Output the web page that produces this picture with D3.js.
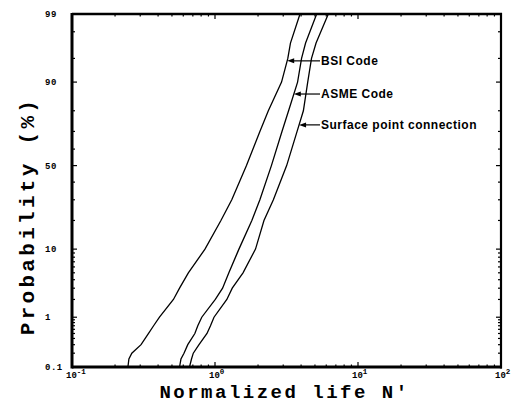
<!DOCTYPE html>
<html>
<head>
<meta charset="utf-8">
<script src="https://cdnjs.cloudflare.com/ajax/libs/d3/7.8.5/d3.min.js"></script>
<style>
  body { margin: 0; background: #fff; }
  svg { display: block; }
</style>
</head>
<body>
<div id="chart"></div>
<script>
// cumulative probability (%) at which the curves were read
const probLevels = [0.1, 0.15, 0.2, 0.3, 0.5, 0.7, 1, 2, 3, 5, 10, 20, 30, 50, 70, 80, 90, 95, 97, 99];
// normalized life N' for each curve at those probabilities
const bsiLife  = [0.246, 0.250, 0.262, 0.304, 0.343, 0.372, 0.409, 0.512, 0.565, 0.651, 0.851, 1.10, 1.31, 1.66, 2.06, 2.36, 2.92, 3.23, 3.37, 3.93];
const asmeLife = [0.565, 0.578, 0.607, 0.645, 0.723, 0.758, 0.808, 1.005, 1.13, 1.25, 1.47, 1.81, 2.06, 2.48, 2.94, 3.27, 3.78, 4.03, 4.30, 5.14];
const surfLife = [0.663, 0.685, 0.705, 0.773, 0.879, 0.930, 0.984, 1.21, 1.32, 1.57, 1.92, 2.20, 2.56, 3.17, 3.75, 4.15, 4.45, 4.73, 5.09, 6.20];

const seriesNames = ["BSI Code", "ASME Code", "Surface point connection"];
const labelProbs = [94.6, 86.4, 73.4];

// tick labels
const yLabelTicks = [0.1, 1, 10, 50, 90, 99];
const yMinorTicks = [0.2, 0.3, 0.4, 0.5, 0.6, 0.7, 0.8, 0.9, 2, 3, 4, 5, 6, 7, 8, 9, 20, 30, 40, 60, 70, 80, 95, 98];
const xMajorTicks = [0.1, 1, 10, 100];
const xExponents = ["-1", "0", "1", "2"];

// inverse normal cdf (Acklam)
function probit(p) {
    const a = [-3.969683028665376e+01, 2.209460984245205e+02, -2.759285104469687e+02, 1.383577518672690e+02, -3.066479806614716e+01, 2.506628277459239e+00];
    const b = [-5.447609879822406e+01, 1.615858368580409e+02, -1.556989798598866e+02, 6.680131188771972e+01, -1.328068155288572e+01];
    const c = [-7.784894002430293e-03, -3.223964580411365e-01, -2.400758277161838e+00, -2.549732539343734e+00, 4.374664141464968e+00, 2.938163982698783e+00];
    const d = [7.784695709041462e-03, 3.224671290700398e-01, 2.445134137142996e+00, 3.754408661907416e+00];
    const pl = 0.02425;
    let q, r;
    if (p < pl) {
        q = Math.sqrt(-2 * Math.log(p));
        return (((((c[0]*q+c[1])*q+c[2])*q+c[3])*q+c[4])*q+c[5]) / ((((d[0]*q+d[1])*q+d[2])*q+d[3])*q+1);
    }
    if (p <= 1 - pl) {
        q = p - 0.5; r = q * q;
        return (((((a[0]*r+a[1])*r+a[2])*r+a[3])*r+a[4])*r+a[5])*q / (((((b[0]*r+b[1])*r+b[2])*r+b[3])*r+b[4])*r+1);
    }
    q = Math.sqrt(-2 * Math.log(1 - p));
    return -(((((c[0]*q+c[1])*q+c[2])*q+c[3])*q+c[4])*q+c[5]) / ((((d[0]*q+d[1])*q+d[2])*q+d[3])*q+1);
}

let margin = { top: 14, right: 10, bottom: 36, left: 72 },
    W = 511, H = 403;

let svg = d3.select("#chart").append("svg")
    .attr("width", W)
    .attr("height", H);

let x = d3.scaleLog().domain([0.1, 100]).range([margin.left, W - margin.right]);
let z = d3.scaleLinear().domain([probit(0.001), probit(0.99)]).range([H - margin.bottom, margin.top]);
let y = p => z(probit(p / 100));

const pTop = margin.top, pBottom = H - margin.bottom, pLeft = margin.left, pRight = W - margin.right;

// y ticks (inward, both sides)
let allY = yLabelTicks.map(p => ({ p: p, major: true })).concat(yMinorTicks.map(p => ({ p: p, major: false })));
svg.append("g").selectAll("line").data(allY).enter().append("line")
    .attr("x1", pLeft).attr("x2", d => pLeft + (d.major ? 5 : 3))
    .attr("y1", d => y(d.p)).attr("y2", d => y(d.p))
    .attr("stroke", "#000").attr("stroke-width", 1.2);
svg.append("g").selectAll("line").data(allY).enter().append("line")
    .attr("x1", pRight).attr("x2", d => pRight - (d.major ? 5 : 3))
    .attr("y1", d => y(d.p)).attr("y2", d => y(d.p))
    .attr("stroke", "#000").attr("stroke-width", 1.2);

// x ticks (inward, bottom and top)
let xMinor = [];
[0.1, 1, 10].forEach(base => { for (let k = 2; k <= 9; k++) xMinor.push(base * k); });
let allX = xMajorTicks.map(v => ({ v: v, major: true })).concat(xMinor.map(v => ({ v: v, major: false })));
svg.append("g").selectAll("line").data(allX).enter().append("line")
    .attr("x1", d => x(d.v)).attr("x2", d => x(d.v))
    .attr("y1", pBottom).attr("y2", d => pBottom - (d.major ? 5 : 2.5))
    .attr("stroke", "#000").attr("stroke-width", 1.2);
svg.append("g").selectAll("line").data(allX).enter().append("line")
    .attr("x1", d => x(d.v)).attr("x2", d => x(d.v))
    .attr("y1", pTop).attr("y2", d => pTop + (d.major ? 5 : 2.5))
    .attr("stroke", "#000").attr("stroke-width", 1.2);

// frame
svg.append("line").attr("x1", pLeft).attr("x2", pLeft).attr("y1", pTop - 1).attr("y2", pBottom + 1.5).attr("stroke", "#000").attr("stroke-width", 3);
svg.append("line").attr("x1", pLeft).attr("x2", pRight + 1).attr("y1", pBottom).attr("y2", pBottom).attr("stroke", "#000").attr("stroke-width", 3);
svg.append("line").attr("x1", pLeft).attr("x2", pRight + 1).attr("y1", pTop).attr("y2", pTop).attr("stroke", "#000").attr("stroke-width", 2.5);
svg.append("line").attr("x1", pRight).attr("x2", pRight).attr("y1", pTop - 1).attr("y2", pBottom + 1.5).attr("stroke", "#000").attr("stroke-width", 2.2);

// y tick labels
svg.append("g").selectAll("text").data(yLabelTicks).enter().append("text")
    .attr("x", 45).attr("y", d => y(d)).attr("dy", "0.35em")
    .style("font-family", "'Liberation Mono', 'DejaVu Sans Mono', monospace")
    .style("font-weight", "bold").style("font-size", "9px").style("letter-spacing", "0.5px")
    .text(d => d);

// x tick labels 10^n
let xl = svg.append("g").selectAll("text").data(xMajorTicks).enter().append("text")
    .attr("x", d => x(d) - 6).attr("y", 378)
    .style("font-family", "'Liberation Mono', 'DejaVu Sans Mono', monospace")
    .style("font-weight", "bold").style("font-size", "9px");
xl.append("tspan").text("10");
xl.append("tspan").attr("dy", -4).style("font-size", "7.5px").text((d, i) => xExponents[i]);

// axis titles
svg.append("text")
    .attr("x", (pLeft + pRight) / 2 - 2).attr("y", 398)
    .attr("text-anchor", "middle")
    .style("font-family", "'Liberation Mono', 'DejaVu Sans Mono', monospace")
    .style("font-weight", "bold").style("font-size", "19px").style("letter-spacing", "2.5px")
    .text("Normalized life N'");

svg.append("text")
    .attr("transform", "translate(34,216) rotate(-90)")
    .attr("text-anchor", "middle")
    .style("font-family", "'Liberation Mono', 'DejaVu Sans Mono', monospace")
    .style("font-weight", "bold").style("font-size", "21px").style("letter-spacing", "3.3px")
    .text("Probability (%)");

// curves
let allSeries = [bsiLife, asmeLife, surfLife];
let line = d3.line()
    .x(d => x(d[0]))
    .y(d => y(d[1]));

svg.append("g").selectAll("path").data(allSeries).enter().append("path")
    .attr("d", s => line(s.map((v, i) => [v, probLevels[i]])))
    .attr("fill", "none").attr("stroke", "#000").attr("stroke-width", 1.3);

// find life on a curve at a given probability (interpolated on the plot's own axes)
function lifeAt(s, p) {
    let zt = probit(p / 100);
    for (let i = 0; i < probLevels.length - 1; i++) {
        let z0 = probit(probLevels[i] / 100), z1 = probit(probLevels[i + 1] / 100);
        if (zt >= z0 && zt <= z1) {
            let t = (zt - z0) / (z1 - z0);
            return Math.pow(10, Math.log10(s[i]) + t * (Math.log10(s[i + 1]) - Math.log10(s[i])));
        }
    }
    return s[s.length - 1];
}

// labels with arrows
let labelX = 321;
let lab = svg.append("g").selectAll("g").data(seriesNames).enter().append("g");
lab.append("line")
    .attr("x1", (d, i) => x(lifeAt(allSeries[i], labelProbs[i])) + 4)
    .attr("x2", labelX - 1)
    .attr("y1", (d, i) => y(labelProbs[i])).attr("y2", (d, i) => y(labelProbs[i]))
    .attr("stroke", "#000").attr("stroke-width", 1.2);
lab.append("path")
    .attr("d", (d, i) => {
        let tx = x(lifeAt(allSeries[i], labelProbs[i])), ty = y(labelProbs[i]);
        return "M" + tx + "," + ty + "L" + (tx + 7) + "," + (ty - 2.5) + "L" + (tx + 7) + "," + (ty + 2.5) + "Z";
    })
    .attr("fill", "#000");
lab.append("text")
    .attr("x", labelX).attr("y", (d, i) => y(labelProbs[i])).attr("dy", "0.36em")
    .style("font-family", "'Liberation Sans', Arial, sans-serif")
    .style("font-weight", "bold").style("font-size", "12px").style("letter-spacing", "0.5px")
    .text(d => d);
</script>
</body>
</html>
